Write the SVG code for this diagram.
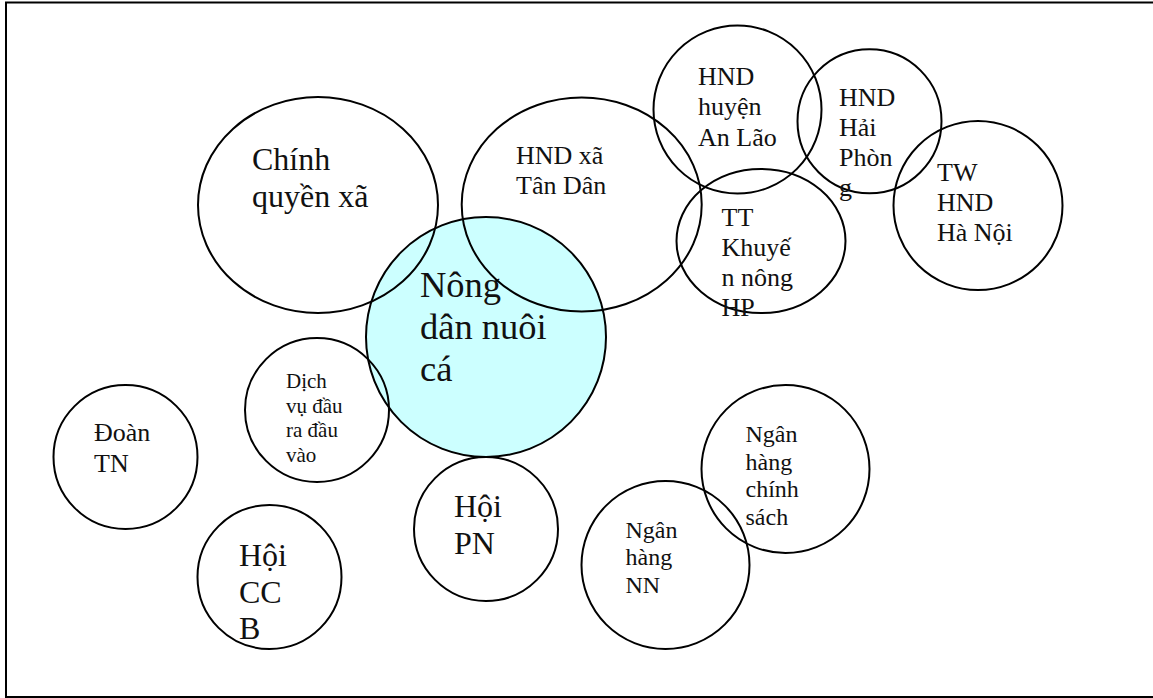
<svg xmlns="http://www.w3.org/2000/svg" width="1153" height="698" viewBox="0 0 1153 698">
<style>
.c{fill:none;stroke:#000;stroke-width:2}
.t{font-family:"Liberation Serif","Times New Roman",serif;fill:#111}
</style>
<rect width="1153" height="698" fill="#fff"/>
<path d="M1160,2.5 H6 V697 H1160" fill="none" stroke="#000" stroke-width="2"/>
<g id="nong-dan">
<circle cx="486" cy="337" r="120" fill="#ccffff" stroke="#000" stroke-width="2"/>
<text class="t" font-size="36.5" x="420"><tspan x="420" y="297">Nông</tspan><tspan x="420" y="339">dân nuôi</tspan><tspan x="420" y="381">cá</tspan></text>
</g>
<g id="chinh-quyen">
<ellipse class="c" cx="318" cy="205" rx="120" ry="108"/>
<text class="t" font-size="32"><tspan x="252" y="170">Chính</tspan><tspan x="252" y="207">quyền xã</tspan></text>
</g>
<g id="hnd-xa">
<ellipse class="c" cx="581.7" cy="204.5" rx="120" ry="107"/>
<text class="t" font-size="26"><tspan x="516" y="164">HND xã</tspan><tspan x="516" y="194">Tân Dân</tspan></text>
</g>
<g id="hnd-huyen">
<circle class="c" cx="737.5" cy="109.5" r="84"/>
<text class="t" font-size="26"><tspan x="698" y="85">HND</tspan><tspan x="698" y="115">huyện</tspan><tspan x="698" y="145.5">An Lão</tspan></text>
</g>
<g id="hnd-hai-phong">
<circle class="c" cx="869.5" cy="121.3" r="72"/>
<text class="t" font-size="26"><tspan x="839" y="106">HND</tspan><tspan x="839" y="136">Hải</tspan><tspan x="839" y="166">Phòn</tspan><tspan x="839" y="196">g</tspan></text>
</g>
<g id="tt-khuyen-nong">
<ellipse class="c" cx="761" cy="241" rx="84.5" ry="72"/>
<text class="t" font-size="26"><tspan x="721.5" y="225.5">TT</tspan><tspan x="721.5" y="255.5">Khuyế</tspan><tspan x="721.5" y="285.5">n nông</tspan><tspan x="721.5" y="315.5">HP</tspan></text>
</g>
<g id="tw-hnd">
<circle class="c" cx="978" cy="205.5" r="84.5"/>
<text class="t" font-size="26"><tspan x="937" y="180.5">TW</tspan><tspan x="937" y="210.5">HND</tspan><tspan x="937" y="240.5">Hà Nội</tspan></text>
</g>
<g id="dich-vu">
<circle class="c" cx="317" cy="410" r="72"/>
<text class="t" font-size="21"><tspan x="286" y="388">Dịch</tspan><tspan x="286" y="412.5">vụ đầu</tspan><tspan x="286" y="437">ra đầu</tspan><tspan x="286" y="461.5">vào</tspan></text>
</g>
<g id="doan-tn">
<circle class="c" cx="125.5" cy="457" r="72"/>
<text class="t" font-size="26"><tspan x="94" y="441">Đoàn</tspan><tspan x="94" y="471.5">TN</tspan></text>
</g>
<g id="hoi-ccb">
<circle class="c" cx="269.5" cy="577" r="72"/>
<text class="t" font-size="32"><tspan x="239" y="566">Hội</tspan><tspan x="239" y="602.5">CC</tspan><tspan x="239" y="639">B</tspan></text>
</g>
<g id="hoi-pn">
<circle class="c" cx="486" cy="529" r="72"/>
<text class="t" font-size="32"><tspan x="454" y="517">Hội</tspan><tspan x="454" y="554">PN</tspan></text>
</g>
<g id="ngan-hang-nn">
<circle class="c" cx="665.5" cy="565" r="84"/>
<text class="t" font-size="24"><tspan x="625.5" y="537.5">Ngân</tspan><tspan x="625.5" y="565">hàng</tspan><tspan x="625.5" y="592.5">NN</tspan></text>
</g>
<g id="ngan-hang-cs">
<circle class="c" cx="785.5" cy="469" r="84"/>
<text class="t" font-size="24"><tspan x="745.5" y="441.5">Ngân</tspan><tspan x="745.5" y="469.5">hàng</tspan><tspan x="745.5" y="497">chính</tspan><tspan x="745.5" y="524.5">sách</tspan></text>
</g>
<g id="connectors"/>
</svg>
